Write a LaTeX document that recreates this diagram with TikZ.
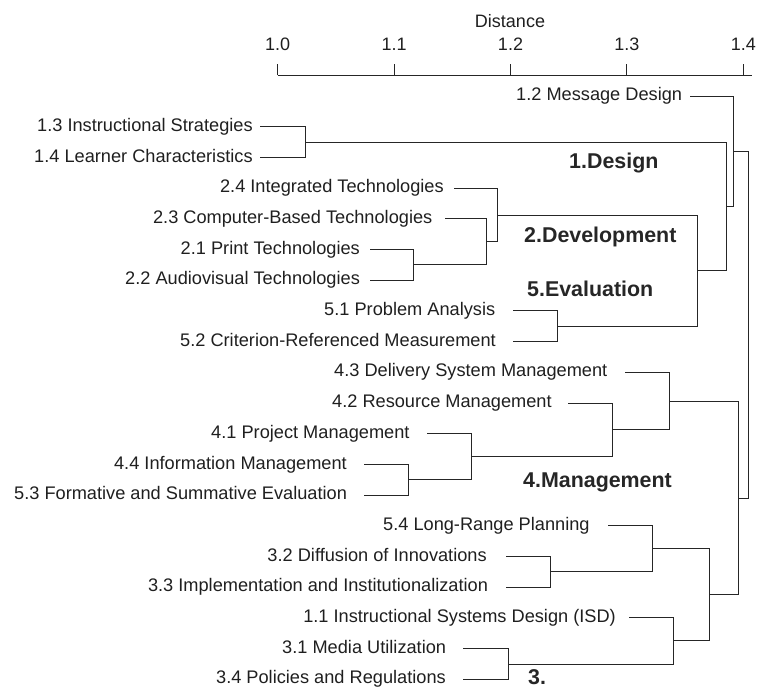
\documentclass[tikz,border=0pt]{standalone}
\usepackage{fontspec}
\setmainfont{Liberation Sans}
\begin{document}
\begin{tikzpicture}[x=1pt,y=-1pt,
  leaf/.style={anchor=east,inner xsep=#1,inner ysep=0pt,text height=13pt,text depth=3.8pt,font=\fontsize{18.2}{20}\selectfont,text=black!88},
  grp/.style={anchor=west,inner sep=0pt,text height=15pt,text depth=0pt,font=\fontsize{21.4}{24}\selectfont\bfseries,text=black!85},
  axlab/.style={inner sep=0pt,text height=13pt,text depth=0pt,font=\fontsize{18}{20}\selectfont,text=black!88},
  link/.style={draw=black!85,line width=0.9pt},
  tick/.style={draw=black!85,line width=0.9pt}]
\useasboundingbox (0,0) rectangle (758,688);
% axis
\node[axlab] (dist) at (510,21) {Distance};
\coordinate (ax0) at (277.7,75);
\coordinate (ax1) at (752,75);
\draw[tick] (ax0) -- (ax1);
\foreach \v/\xx/\nm in {1.0/277.7/t0,1.1/394.1/t1,1.2/510.5/t2,1.3/626.9/t3,1.4/743.3/t4}{
  \coordinate (\nm) at (\xx,75);
  \draw[tick] (\nm) -- ++(0,-11);
  \node[axlab] (l\nm) at (\xx,44) {\v};
}
% leaves
\node[leaf=7.7pt] (n12) at (690,96) {1.2 Message Design};
\node[leaf=7.1pt] (n13) at (260,126.7) {1.3 Instructional Strategies};
\node[leaf=7.1pt] (n14) at (260,157.4) {1.4 Learner Characteristics};
\node[leaf=10.1pt] (n24) at (454,188.1) {2.4 Integrated Technologies};
\node[leaf=12.5pt] (n23) at (445,218.8) {2.3 Computer-Based Technologies};
\node[leaf=10pt] (n21) at (370,249.5) {2.1 Print Technologies};
\node[leaf=9.9pt] (n22) at (370,280.2) {2.2 Audiovisual Technologies};
\node[leaf=17.6pt] (n51) at (513,310.9) {5.1 Problem Analysis};
\node[leaf=17pt] (n52) at (513,341.6) {5.2 Criterion-Referenced Measurement};
\node[leaf=17.5pt] (n43) at (625,372.3) {4.3 Delivery System Management};
\node[leaf=16.1pt] (n42) at (568,403) {4.2 Resource Management};
\node[leaf=17.3pt] (n41) at (427,433.7) {4.1 Project Management};
\node[leaf=17pt] (n44) at (364,464.4) {4.4 Information Management};
\node[leaf=16.8pt] (n53) at (364,495.1) {5.3 Formative and Summative Evaluation};
\node[leaf=18.2pt] (n54) at (608,525.8) {5.4 Long-Range Planning};
\node[leaf=19.1pt] (n32) at (506,556.5) {3.2 Diffusion of Innovations};
\node[leaf=17.8pt] (n33) at (506,587.2) {3.3 Implementation and Institutionalization};
\node[leaf=13pt] (n11) at (629,617.9) {1.1 Instructional Systems Design (ISD)};
\node[leaf=16.7pt] (n31) at (463,648.6) {3.1 Media Utilization};
\node[leaf=17pt] (n34) at (463,679.3) {3.4 Policies and Regulations};
% joins
\coordinate (jA) at (305,142.05);
\coordinate (jB) at (413,264.85);
\coordinate (jC) at (486,241.8);
\coordinate (jD) at (497,214.95);
\coordinate (jE) at (557,326.25);
\coordinate (jF) at (697,270.6);
\coordinate (jG) at (726,206.3);
\coordinate (jH) at (733,151.15);
\coordinate (jI) at (408,479.75);
\coordinate (jJ) at (471,456.7);
\coordinate (jK) at (612,429.85);
\coordinate (jL) at (669,401.1);
\coordinate (jM) at (550,571.85);
\coordinate (jN) at (652,548.8);
\coordinate (jO) at (508,663.95);
\coordinate (jP) at (673,640.9);
\coordinate (jQ) at (709,594.85);
\coordinate (jR) at (738,497.95);
\coordinate (jS) at (748,324.55);
% connectors
\draw[link] (n13.east) -| (jA);
\draw[link] (n14.east) -| (jA);
\draw[link] (n21.east) -| (jB);
\draw[link] (n22.east) -| (jB);
\draw[link] (n23.east) -| (jC);
\draw[link] (jB) -| (jC);
\draw[link] (n24.east) -| (jD);
\draw[link] (jC) -| (jD);
\draw[link] (n51.east) -| (jE);
\draw[link] (n52.east) -| (jE);
\draw[link] (jD) -| (jF);
\draw[link] (jE) -| (jF);
\draw[link] (jA) -| (jG);
\draw[link] (jF) -| (jG);
\draw[link] (n12.east) -| (jH);
\draw[link] (jG) -| (jH);
\draw[link] (n44.east) -| (jI);
\draw[link] (n53.east) -| (jI);
\draw[link] (n41.east) -| (jJ);
\draw[link] (jI) -| (jJ);
\draw[link] (n42.east) -| (jK);
\draw[link] (jJ) -| (jK);
\draw[link] (n43.east) -| (jL);
\draw[link] (jK) -| (jL);
\draw[link] (n32.east) -| (jM);
\draw[link] (n33.east) -| (jM);
\draw[link] (n54.east) -| (jN);
\draw[link] (jM) -| (jN);
\draw[link] (n31.east) -| (jO);
\draw[link] (n34.east) -| (jO);
\draw[link] (n11.east) -| (jP);
\draw[link] (jO) -| (jP);
\draw[link] (jN) -| (jQ);
\draw[link] (jP) -| (jQ);
\draw[link] (jL) -| (jR);
\draw[link] (jQ) -| (jR);
\draw[link] (jH) -| (jS);
\draw[link] (jR) -| (jS);
% group labels
\node[grp] (g1) at (569,161) {1.Design};
\node[grp] (g2) at (524,235) {2.Development};
\node[grp] (g5) at (527,288.5) {5.Evaluation};
\node[grp] (g4) at (523,480) {4.Management};
\node[grp] (g3) at (528,676.5) {3.};
\end{tikzpicture}
\end{document}
